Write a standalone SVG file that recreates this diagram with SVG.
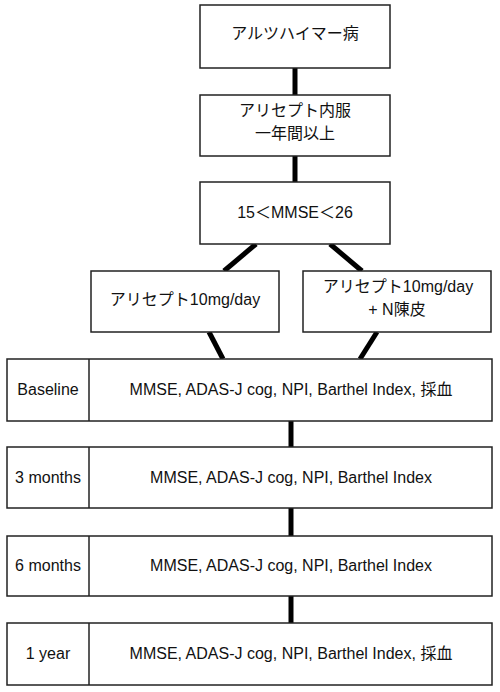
<svg xmlns="http://www.w3.org/2000/svg" width="500" height="692" viewBox="0 0 500 692">
<style>
.box{fill:#fff;stroke:#222;stroke-width:1.5}
.t{font-family:"Liberation Sans","Noto Sans CJK JP",sans-serif;font-size:16px;fill:#111;text-anchor:middle}
.c{stroke:#000;stroke-width:5;fill:none}
</style>
<rect width="500" height="692" fill="#fff"/>
<g id="connectors">
<line class="c" x1="295" y1="68" x2="295" y2="95"/>
<line class="c" x1="295" y1="156" x2="295" y2="182"/>
<line class="c" x1="256" y1="244" x2="224" y2="271"/>
<line class="c" x1="330" y1="244" x2="362" y2="271"/>
<line class="c" x1="209" y1="332" x2="223" y2="359"/>
<line class="c" x1="377" y1="332" x2="360" y2="359"/>
<line class="c" x1="291" y1="421" x2="291" y2="447"/>
<line class="c" x1="291" y1="508" x2="291" y2="536"/>
<line class="c" x1="291" y1="596" x2="291" y2="623"/>
</g>
<g id="n1">
<rect class="box" x="200" y="5" width="190" height="63"/>
<text class="t" x="295" y="39">アルツハイマー病</text>
</g>
<g id="n2">
<rect class="box" x="200" y="95" width="190" height="61"/>
<text class="t" x="295" y="116">アリセプト内服</text>
<text class="t" x="295" y="139">一年間以上</text>
</g>
<g id="n3">
<rect class="box" x="200" y="182" width="190" height="62"/>
<text class="t" x="295" y="218">15＜MMSE＜26</text>
</g>
<g id="n4">
<rect class="box" x="91" y="271" width="188" height="61"/>
<text class="t" x="185" y="305">アリセプト10mg/day</text>
</g>
<g id="n5">
<rect class="box" x="303" y="271" width="188" height="61"/>
<text class="t" x="398" y="292">アリセプト10mg/day</text>
<text class="t" x="397" y="315">+ N陳皮</text>
</g>
<g id="r1">
<rect class="box" x="7" y="359" width="485" height="62"/>
<line class="box" x1="89" y1="359" x2="89" y2="421"/>
<text class="t" x="48" y="395">Baseline</text>
<text class="t" x="291" y="395">MMSE, ADAS-J cog, NPI, Barthel Index, 採血</text>
</g>
<g id="r2">
<rect class="box" x="7" y="447" width="485" height="61"/>
<line class="box" x1="89" y1="447" x2="89" y2="508"/>
<text class="t" x="48" y="483">3 months</text>
<text class="t" x="291" y="483">MMSE, ADAS-J cog, NPI, Barthel Index</text>
</g>
<g id="r3">
<rect class="box" x="7" y="536" width="485" height="60"/>
<line class="box" x1="89" y1="536" x2="89" y2="596"/>
<text class="t" x="48" y="571">6 months</text>
<text class="t" x="291" y="571">MMSE, ADAS-J cog, NPI, Barthel Index</text>
</g>
<g id="r4">
<rect class="box" x="7" y="623" width="485" height="62"/>
<line class="box" x1="89" y1="623" x2="89" y2="685"/>
<text class="t" x="48" y="659">1 year</text>
<text class="t" x="291" y="659">MMSE, ADAS-J cog, NPI, Barthel Index, 採血</text>
</g>
</svg>
